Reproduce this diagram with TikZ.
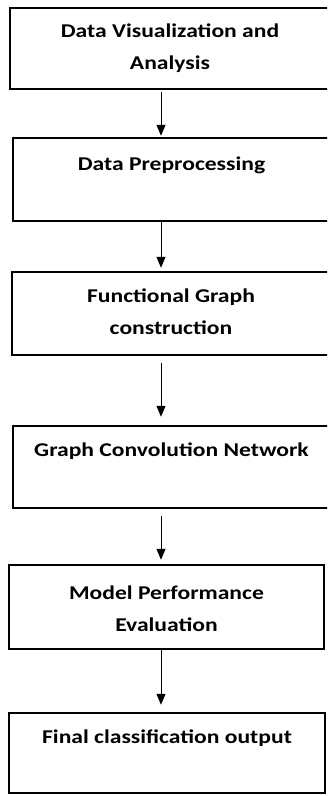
\documentclass[tikz,border=0pt]{standalone}
\usepackage{fontspec}
\setmainfont{Carlito}
\newfontfamily\stagefont{Carlito}[FakeStretch=1.21]
\usepackage{tikz}
\usetikzlibrary{positioning, calc, arrows.meta}

\begin{document}
\begin{tikzpicture}[x=1pt, y=-1pt,
    stagebox/.style={draw, line width=2.5pt, inner sep=0pt},
    stagelabel/.style={font=\stagefont\bfseries\fontsize{19.5}{31.5}\selectfont, align=center,
                       anchor=north, inner sep=0pt},
    flow/.style={-{Triangle[length=11pt, width=9pt]}, line width=0.9pt}]
  % page frame (the upper boxes run past the right edge)
  \clip (0,0) rectangle (327,796);
  \fill[white] (0,0) rectangle (327,796);

  % Stage boxes
  \node[stagebox, minimum width=320pt, minimum height=81pt] (vis)  at (170,48.5) {};
  \node[stagebox, minimum width=317pt, minimum height=83pt] (prep) at (171.5,179.5) {};
  \node[stagebox, minimum width=318pt, minimum height=83pt] (fgc)  at (171,313.5) {};
  \node[stagebox, minimum width=317pt, minimum height=82pt] (gcn)  at (171.5,467) {};
  \node[stagebox, minimum width=315pt, minimum height=84pt] (eval) at (166.5,607) {};
  \node[stagebox, minimum width=316pt, minimum height=80pt] (out)  at (167,753) {};

  % Stage titles
  \node[stagelabel] (visT)  at ([yshift=-17pt]vis.north)  {Data Visualization and\\Analysis};
  \node[stagelabel] (prepT) at ([yshift=-20pt]prep.north) {Data Preprocessing};
  \node[stagelabel] (fgcT)  at ([yshift=-18pt]fgc.north)  {Functional Graph\\construction};
  \node[stagelabel] (gcnT)  at ([yshift=-18pt]gcn.north)  {Graph Convolution Network};
  \node[stagelabel] (evalT) at ([yshift=-22pt]eval.north) {Model Performance\\Evaluation};
  \node[stagelabel] (outT)  at ([yshift=-18pt]out.north)  {Final classification output};

  % Arrows down the left-of-centre spine
  \coordinate (spine) at (161,0);
  \draw[flow] ($(vis.south -| spine)+(0,2)$)  -- ($(prep.north -| spine)+(0,-1)$);
  \draw[flow] ($(prep.south -| spine)+(0,0)$) -- ($(fgc.north -| spine)+(0,-3)$);
  \draw[flow] ($(fgc.south -| spine)+(0,7)$)  -- ($(gcn.north -| spine)+(0,-8)$);
  \draw[flow] ($(gcn.south -| spine)+(0,7)$)  -- ($(eval.north -| spine)+(0,-4)$);
  \draw[flow] ($(eval.south -| spine)+(0,0)$) -- ($(out.north -| spine)+(0,-7)$);
\end{tikzpicture}
\end{document}
